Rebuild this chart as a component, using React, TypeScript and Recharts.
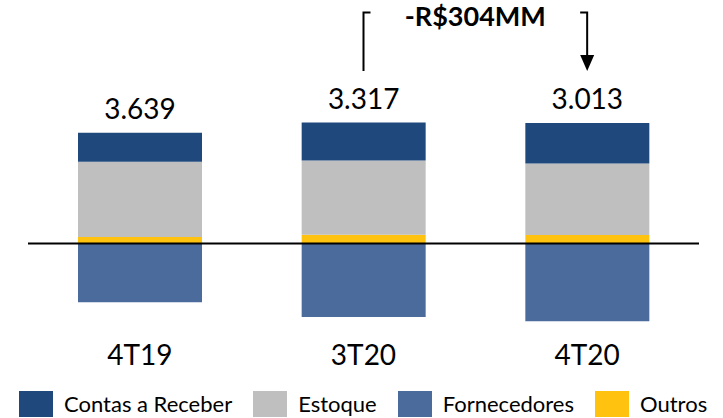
import React from "react";
import { BarChart, Bar, XAxis, YAxis, ReferenceLine, LabelList, Legend } from "recharts";

const periods = ["4T19", "3T20", "4T20"];
const contasReceber = [2040, 2664, 2853];
const estoque = [5280, 5208, 5019];
const outros = [450, 610, 589];
const fornecedores = [-4131, -5165, -5448];

const fontFamily = "Lato, 'Open Sans', sans-serif";
const colors = {
  contas: "#1F497D",
  estoque: "#BFBFBF",
  fornecedores: "#4A6B9B",
  outros: "#FFC20E",
};

const legendItems = [
  { label: "Contas a Receber", color: colors.contas },
  { label: "Estoque", color: colors.estoque },
  { label: "Fornecedores", color: colors.fornecedores },
  { label: "Outros", color: colors.outros },
];

const data = periods.map((name, i) => ({
  name,
  contas: contasReceber[i],
  estoque: estoque[i],
  outros: outros[i],
  fornecedores: fornecedores[i],
  total: contasReceber[i] + estoque[i] + outros[i] + fornecedores[i],
}));

const fmt = (v: number) => v.toLocaleString("pt-BR");

function LegendRow() {
  return (
    <div
      style={{
        display: "flex",
        alignItems: "center",
        width: 723,
        height: 35,
        boxSizing: "border-box",
        paddingLeft: 19,
        fontFamily,
        fontSize: 22,
        color: "#000",
        whiteSpace: "nowrap",
      }}
    >
      {legendItems.map((it) => (
        <div key={it.label} style={{ display: "flex", alignItems: "center", marginRight: 21, flexShrink: 0 }}>
          <span style={{ width: 34, height: 26, background: it.color, marginRight: 11, display: "inline-block", flexShrink: 0 }} />
          <span>{it.label}</span>
        </div>
      ))}
    </div>
  );
}

const leftBracket = (p: any) => (
  <path
    d={`M${p.x1 + 7},${p.y1} L${p.x1},${p.y1} L${p.x2},${p.y2}`}
    fill="none"
    stroke="#000"
    strokeWidth={2}
  />
);

const rightBracket = (p: any) => (
  <g>
    <path
      d={`M${p.x1 - 7},${p.y1} L${p.x1},${p.y1} L${p.x2},${p.y2 - 14}`}
      fill="none"
      stroke="#000"
      strokeWidth={2}
    />
    <polygon points={`${p.x2 - 7},${p.y2 - 16} ${p.x2 + 7},${p.y2 - 16} ${p.x2},${p.y2}`} fill="#000" />
  </g>
);

const deltaText = (p: any) => (
  <text
    x={(p.x1 + p.x2) / 2}
    y={p.y1 + 13}
    textAnchor="middle"
    fontFamily={fontFamily}
    fontWeight={700}
    fontSize={27}
    fill="#000"
  >
    -R$304MM
  </text>
);

export default function App() {
  return (
    <div style={{ position: "absolute", left: 0, top: 0, width: 723, height: 418, background: "#fff", overflow: "hidden" }}>
      <BarChart
        width={723}
        height={418}
        data={data}
        stackOffset="sign"
        margin={{ top: 8.3, right: 24, bottom: 0, left: 28 }}
        style={{ fontFamily }}
      >
        <XAxis
          dataKey="name"
          axisLine={false}
          tickLine={false}
          tickSize={0}
          tickMargin={16}
          height={54}
          interval={0}
          tick={{ fill: "#000", fontSize: 28, fontFamily }}
        />
        <YAxis hide domain={[-6000, 16500]} allowDataOverflow />
        <Bar dataKey="outros" stackId="a" fill={colors.outros} barSize={124} isAnimationActive={false} />
        <Bar dataKey="estoque" stackId="a" fill={colors.estoque} barSize={124} isAnimationActive={false} />
        <Bar dataKey="contas" stackId="a" fill={colors.contas} barSize={124} isAnimationActive={false}>
          <LabelList
            dataKey="total"
            position="top"
            offset={14}
            formatter={(v: any) => fmt(Number(v))}
            style={{ fill: "#000", fontSize: 28, fontFamily }}
          />
        </Bar>
        <Bar dataKey="fornecedores" stackId="a" fill={colors.fornecedores} barSize={124} isAnimationActive={false} />
        <ReferenceLine y={0} stroke="#000" strokeWidth={2} />
        <ReferenceLine
          segment={[{ x: "3T20", y: 16200 }, { x: "3T20", y: 12100 }]}
          ifOverflow="visible"
          shape={leftBracket}
        />
        <ReferenceLine
          segment={[{ x: "4T20", y: 16200 }, { x: "4T20", y: 12100 }]}
          ifOverflow="visible"
          shape={rightBracket}
        />
        <ReferenceLine
          segment={[{ x: "3T20", y: 16200 }, { x: "4T20", y: 16200 }]}
          ifOverflow="visible"
          shape={deltaText}
        />
        <Legend
          content={() => <LegendRow />}
          verticalAlign="bottom"
          wrapperStyle={{ left: 0, width: 723, height: 35, bottom: -3 }}
        />
      </BarChart>
    </div>
  );
}
